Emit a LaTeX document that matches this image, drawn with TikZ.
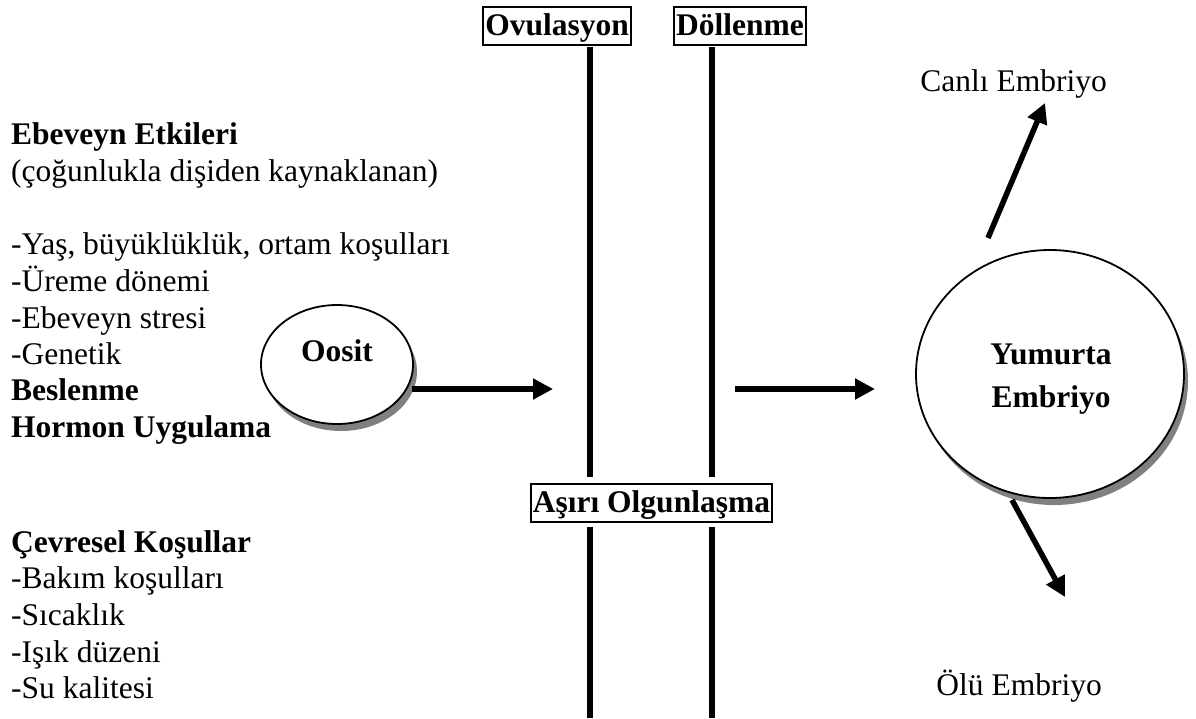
\documentclass[tikz,border=0pt]{standalone}
\usepackage{fontspec}
\setmainfont{Liberation Serif}
\usetikzlibrary{arrows.meta,shapes.geometric,shadows}
\newcommand\yazi{\fontsize{31.5}{36.6}\selectfont}
\begin{document}
\begin{tikzpicture}[x=1pt,y=-1pt,
		metin/.style={anchor=base west,inner sep=0pt,font=\yazi},
		kalin/.style={metin,font=\yazi\bfseries},
		kutu/.style={draw,line width=2pt,font=\yazi\bfseries,inner xsep=2pt,inner ysep=3pt,text height=25pt,text depth=7pt},
		hucre/.style={ellipse,draw,line width=1.8pt,fill=white,inner sep=0pt,drop shadow={shadow xshift=4pt,shadow yshift=-7pt,fill=black!50,opacity=1}},
		ok/.style={-{Triangle[length=20pt,width=20pt]},line width=5.5pt},
		cizgi/.style={line width=6.5pt}]
	\useasboundingbox (0,0) rectangle (1196,718);
	% sol taraf
	\path
	(11,144) node[kalin](ebeveyn){Ebeveyn Etkileri}
	(11,181) node[metin](cogunluk){(çoğunlukla dişiden kaynaklanan)}
	(11,254) node[metin](yas){-Yaş, büyüklüklük, ortam koşulları}
	(11,291) node[metin](ureme){-Üreme dönemi}
	(11,328) node[metin](stres){-Ebeveyn stresi}
	(11,364) node[metin](genetik){-Genetik}
	(11,400) node[kalin](beslenme){Beslenme}
	(11,437) node[kalin](hormon){Hormon Uygulama}
	(11,552) node[kalin](cevresel){Çevresel Koşullar}
	(11,588) node[metin](bakim){-Bakım koşulları}
	(11,625) node[metin](sicaklik){-Sıcaklık}
	(11,662) node[metin](isik){-Işık düzeni}
	(11,698) node[metin](su){-Su kalitesi}
	;
	% kutular ve cizgiler
	\path
	(632,6) node[kutu,anchor=north east](ovulasyon){Ovulasyon}
	(673,6) node[kutu,anchor=north west](dollenme){Döllenme}
	(773,483) node[kutu,anchor=north east](asiri){Aşırı Olgunlaşma}
	(590,47) coordinate(o1) (590,477) coordinate(o2)
	(590,527) coordinate(o3) (590,718) coordinate(o4)
	(712,47) coordinate(d1) (712,477) coordinate(d2)
	(712,527) coordinate(d3) (712,718) coordinate(d4)
	;
	\draw[cizgi] (o1)--(o2);
	\draw[cizgi] (o3)--(o4);
	\draw[cizgi] (d1)--(d2);
	\draw[cizgi] (d3)--(d4);
	% hucreler
	\path
	(337,364.5) node[hucre,minimum width=152pt,minimum height=119pt](oosit){}
	(337,361) node[anchor=base,inner sep=0pt,font=\yazi\bfseries](oosityazi){Oosit}
	(1050,374) node[hucre,minimum width=268pt,minimum height=248pt](yumurta){}
	(1051,343.7) node[anchor=north,inner sep=0pt,align=center,font=\fontsize{31.5}{43}\selectfont\bfseries](yumurtayazi){Yumurta\\Embriyo}
	(1107,91) node[anchor=base east,inner sep=0pt,font=\yazi](canli){Canlı Embriyo}
	(1102,695) node[anchor=base east,inner sep=0pt,font=\yazi](olu){Ölü Embriyo}
	(412,389) coordinate(a1) (553,389) coordinate(a2)
	(735,389) coordinate(b1) (875,389) coordinate(b2)
	(988,238) coordinate(c1) (1045,103) coordinate(c2)
	(1012,500) coordinate(e1) (1065,597) coordinate(e2)
	;
	\draw[ok] (a1)--(a2);
	\draw[ok] (b1)--(b2);
	\draw[ok] (c1)--(c2);
	\draw[ok] (e1)--(e2);
\end{tikzpicture}
\end{document}
